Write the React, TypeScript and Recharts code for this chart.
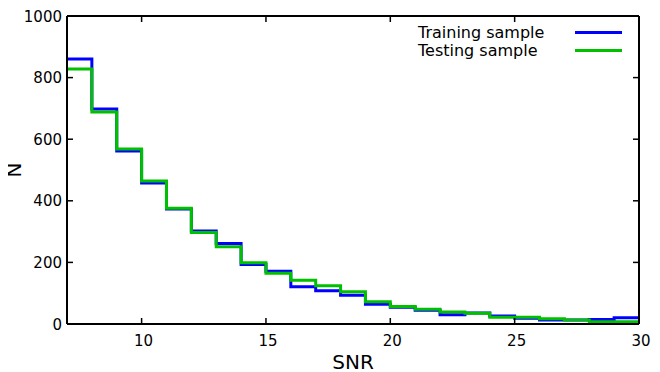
import { LineChart, Line, XAxis, YAxis, Label } from 'recharts';

// SNR bin edges (7..30), one value per bin [edge, edge+1)
const binEdges = [7, 8, 9, 10, 11, 12, 13, 14, 15, 16, 17, 18, 19, 20, 21, 22, 23, 24, 25, 26, 27, 28, 29, 30];
const trainingCounts = [860, 698, 562, 458, 373, 302, 261, 193, 171, 121, 108, 93, 64, 54, 45, 30, 36, 26, 19, 13, 13, 15, 20];
const testingCounts = [828, 688, 568, 464, 376, 297, 251, 199, 165, 142, 124, 105, 72, 57, 48, 39, 35, 22, 22, 17, 13, 7, 7];
const xTicks = [10, 15, 20, 25, 30];
const yTicks = [0, 200, 400, 600, 800, 1000];

const FONT = '"DejaVu Sans", sans-serif';
const BLUE = '#0000ff';
const GREEN = '#00c000';

// last value repeated at the right edge so the final step reaches 30
const data = binEdges.map((x, i) => ({
  snr: x,
  train: trainingCounts[Math.min(i, trainingCounts.length - 1)],
  test: testingCounts[Math.min(i, testingCounts.length - 1)],
}));

const legendItems = [
  { name: 'Training sample', color: BLUE },
  { name: 'Testing sample', color: GREEN },
];

const BottomTick = (props: any) => {
  const { x, y, payload } = props;
  return (
    <g>
      <line x1={x} y1={y} x2={x} y2={y - 6} stroke="#000" strokeWidth={1.5} />
      <text x={x + 2} y={y + 22} textAnchor="middle" fontSize={15} fontFamily={FONT} fill="#000">
        {payload.value}
      </text>
    </g>
  );
};

const TopTick = (props: any) => {
  const { x, y } = props;
  return <line x1={x} y1={y} x2={x} y2={y + 6} stroke="#000" strokeWidth={1.5} />;
};

const LeftTick = (props: any) => {
  const { x, y, payload } = props;
  return (
    <g>
      <line x1={x} y1={y} x2={x + 6} y2={y} stroke="#000" strokeWidth={1.5} />
      <text x={x - 5} y={y + 5.5} textAnchor="end" fontSize={15} fontFamily={FONT} fill="#000">
        {payload.value}
      </text>
    </g>
  );
};

const RightTick = (props: any) => {
  const { x, y } = props;
  return <line x1={x} y1={y} x2={x - 6} y2={y} stroke="#000" strokeWidth={1.5} />;
};

const axisLine = { stroke: '#000', strokeWidth: 2 };

export default function App() {
  // shifted by the body margin so the chart covers the whole 660x372 window
  return (
    <div style={{ position: 'relative', width: 660, height: 372, margin: '-8px 0 0 -8px' }}>
      <LineChart width={660} height={372} data={data} margin={{ top: 15, right: 20, left: 17, bottom: 0 }}>
        <XAxis
          dataKey="snr"
          type="number"
          domain={[7, 30]}
          ticks={xTicks}
          height={48}
          tickSize={0}
          tickMargin={0}
          tickLine={false}
          axisLine={axisLine}
          tick={<BottomTick />}
          interval={0}
        >
          <Label
            content={() => (
              <text x={353} y={369} textAnchor="middle" fontSize={20} fontFamily={FONT} fill="#000">
                SNR
              </text>
            )}
          />
        </XAxis>
        <XAxis
          xAxisId="top"
          orientation="top"
          dataKey="snr"
          type="number"
          domain={[7, 30]}
          ticks={xTicks}
          height={1}
          tickSize={0}
          tickMargin={0}
          tickLine={false}
          axisLine={axisLine}
          tick={<TopTick />}
          interval={0}
        />
        <YAxis
          type="number"
          domain={[0, 1000]}
          ticks={yTicks}
          width={50}
          tickSize={0}
          tickMargin={0}
          tickLine={false}
          axisLine={axisLine}
          tick={<LeftTick />}
          interval={0}
        >
          <Label
            content={() => (
              <text
                x={21}
                y={170}
                transform="rotate(-90, 21, 170)"
                textAnchor="middle"
                fontSize={20}
                fontFamily={FONT}
                fill="#000"
              >
                N
              </text>
            )}
          />
        </YAxis>
        <YAxis
          yAxisId="right"
          orientation="right"
          type="number"
          domain={[0, 1000]}
          ticks={yTicks}
          width={1}
          tickSize={0}
          tickMargin={0}
          tickLine={false}
          axisLine={axisLine}
          tick={<RightTick />}
          interval={0}
        />
        <Line
          type="stepAfter"
          dataKey="train"
          name="Training sample"
          stroke={BLUE}
          strokeWidth={3}
          dot={false}
          activeDot={false}
          isAnimationActive={false}
        />
        <Line
          type="stepAfter"
          dataKey="test"
          name="Testing sample"
          xAxisId="top"
          yAxisId="right"
          stroke={GREEN}
          strokeWidth={3}
          dot={false}
          activeDot={false}
          isAnimationActive={false}
        />
      </LineChart>
      <div style={{ position: 'absolute', top: 23, left: 418, fontFamily: FONT, fontSize: 16, color: '#000' }}>
        {legendItems.map((item) => (
          <div key={item.name} style={{ display: 'flex', alignItems: 'center', height: 18 }}>
            <span style={{ width: 157, whiteSpace: 'nowrap' }}>{item.name}</span>
            <span style={{ width: 47, height: 3, background: item.color }} />
          </div>
        ))}
      </div>
    </div>
  );
}
